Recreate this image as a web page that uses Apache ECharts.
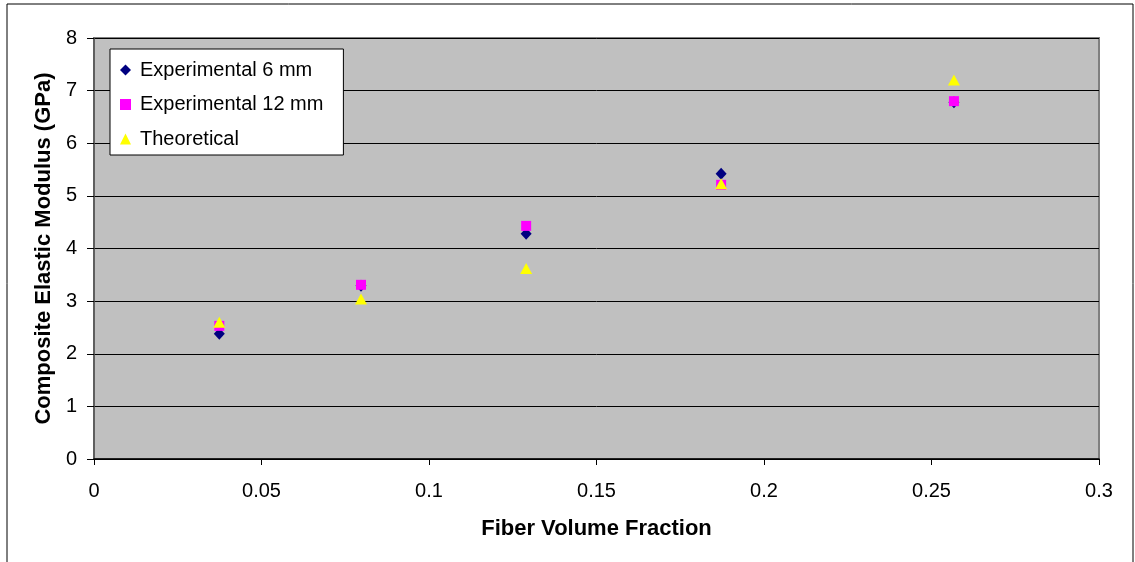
<!DOCTYPE html>
<html lang="en">

<head>
    <meta charset="UTF-8">
    <title>Composite Elastic Modulus</title>
</head>

<body style="margin:0;background:#fff;">
    <div id="main" style="width:1135px;height:562px;"></div>
    <script src="https://cdn.jsdelivr.net/npm/echarts@6/dist/echarts.min.js"></script>
    <script>
        // fiber volume fraction (x) for each measured sample
        var fraction = [0.0374, 0.0797, 0.129, 0.1872, 0.2567];
        // modulus in GPa
        var exp6mm = [2.38, 3.29, 4.28, 5.42, 6.78];
        var exp12mm = [2.53, 3.31, 4.43, 5.21, 6.8];
        var theoretical = [2.6, 3.04, 3.62, 5.23, 7.2];

        function pairs(ys) {
            var out = [];
            for (var i = 0; i < fraction.length; i++) {
                out.push([fraction[i], ys[i]]);
            }
            return out;
        }

        var font = 'Liberation Sans, Arial, sans-serif';
        var myChart = echarts.init(document.getElementById('main'));

        var option = {
            animation: false,
            textStyle: { fontFamily: font },
            graphic: [{
                type: 'rect',
                shape: { x: 7, y: 4, width: 1126, height: 600 },
                style: { fill: 'none', stroke: '#000', lineWidth: 1 },
                silent: true
            }],
            grid: {
                left: 94,
                top: 38,
                right: 36,
                bottom: 103,
                show: true,
                backgroundColor: '#C0C0C0',
                borderColor: '#808080',
                borderWidth: 2
            },
            legend: {
                orient: 'vertical',
                left: 110,
                top: 49,
                padding: [11, 20, 6, 10],
                itemGap: 14.5,
                itemWidth: 11,
                itemHeight: 11,
                backgroundColor: '#fff',
                borderColor: '#000',
                borderWidth: 1,
                textStyle: { fontSize: 20, color: '#000', fontFamily: font, padding: [0, 0, 0, 4] },
                data: [
                    { name: 'Experimental 6 mm', icon: 'diamond' },
                    { name: 'Experimental 12 mm', icon: 'rect' },
                    { name: 'Theoretical', icon: 'triangle' }
                ]
            },
            xAxis: {
                type: 'value',
                min: 0,
                max: 0.3,
                interval: 0.05,
                name: 'Fiber Volume Fraction',
                nameLocation: 'middle',
                nameGap: 59,
                nameTextStyle: { fontSize: 22, fontWeight: 'bold', color: '#000', fontFamily: font },
                axisLine: { onZero: false, lineStyle: { color: '#000', width: 1.5 } },
                axisTick: { show: true, length: 6, lineStyle: { color: '#000' } },
                axisLabel: {
                    fontSize: 20,
                    color: '#000',
                    margin: 22,
                    formatter: function (v) {
                        return String(+v.toFixed(2));
                    }
                },
                splitLine: { show: false }
            },
            yAxis: {
                type: 'value',
                min: 0,
                max: 8,
                interval: 1,
                name: 'Composite Elastic Modulus (GPa)',
                nameLocation: 'middle',
                nameGap: 39,
                nameTextStyle: { fontSize: 22, fontWeight: 'bold', color: '#000', fontFamily: font },
                axisLine: { show: true, lineStyle: { color: '#555', width: 1.5 } },
                axisTick: { show: true, length: 7, lineStyle: { color: '#000' } },
                axisLabel: { fontSize: 20, color: '#000', margin: 17 },
                splitLine: { show: true, lineStyle: { color: '#000', width: 1 } }
            },
            series: [
                {
                    name: 'Experimental 6 mm',
                    type: 'scatter',
                    symbol: 'diamond',
                    symbolSize: [11, 12],
                    itemStyle: { color: '#000080', opacity: 1 },
                    data: pairs(exp6mm)
                },
                {
                    name: 'Experimental 12 mm',
                    type: 'scatter',
                    symbol: 'rect',
                    symbolSize: 10,
                    itemStyle: { color: '#FF00FF', opacity: 1 },
                    data: pairs(exp12mm)
                },
                {
                    name: 'Theoretical',
                    type: 'scatter',
                    symbol: 'triangle',
                    symbolSize: [12, 11],
                    itemStyle: { color: '#FFFF00', opacity: 1 },
                    data: pairs(theoretical)
                }
            ]
        };
        myChart.setOption(option);
    </script>
</body>

</html>
